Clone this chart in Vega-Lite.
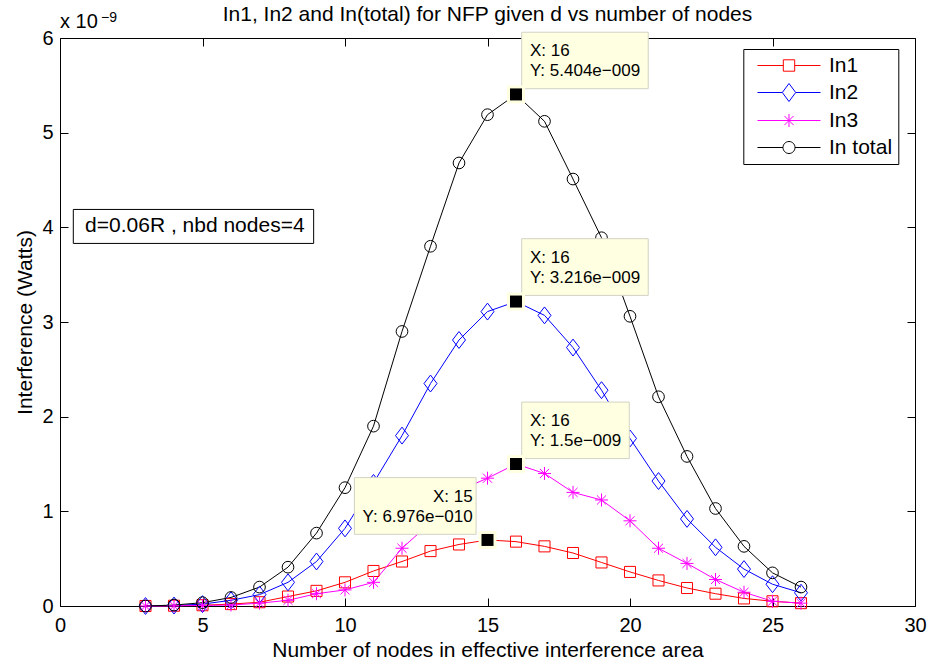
{
  "$schema": "https://vega.github.io/schema/vega-lite/v6.json",
  "width": 855,
  "height": 568,
  "autosize": {"type": "none"},
  "padding": {"left": 60, "top": 38, "right": 16, "bottom": 62},
  "background": "white",
  "config": {
    "font": "Liberation Sans",
    "view": {"stroke": "black", "strokeWidth": 1},
    "axis": {"grid": false, "domain": false, "tickColor": "black", "tickSize": -8, "tickWidth": 1, "labelColor": "black", "labelFontSize": 20, "labelFont": "Liberation Sans", "titleFont": "Liberation Sans", "titleFontSize": 21, "titleFontWeight": "normal", "titleColor": "black", "labelFlush": false, "labelOverlap": false},
    "text": {"font": "Liberation Sans"}
  },
  "datasets": {
    "curves": [
      {"nodes": 3, "series": "In1", "value": 0.0},
      {"nodes": 4, "series": "In1", "value": 0.003},
      {"nodes": 5, "series": "In1", "value": 0.008},
      {"nodes": 6, "series": "In1", "value": 0.02},
      {"nodes": 7, "series": "In1", "value": 0.04},
      {"nodes": 8, "series": "In1", "value": 0.1},
      {"nodes": 9, "series": "In1", "value": 0.16},
      {"nodes": 10, "series": "In1", "value": 0.25},
      {"nodes": 11, "series": "In1", "value": 0.37},
      {"nodes": 12, "series": "In1", "value": 0.47},
      {"nodes": 13, "series": "In1", "value": 0.58},
      {"nodes": 14, "series": "In1", "value": 0.65},
      {"nodes": 15, "series": "In1", "value": 0.6976},
      {"nodes": 16, "series": "In1", "value": 0.68},
      {"nodes": 17, "series": "In1", "value": 0.63},
      {"nodes": 18, "series": "In1", "value": 0.56},
      {"nodes": 19, "series": "In1", "value": 0.46},
      {"nodes": 20, "series": "In1", "value": 0.36},
      {"nodes": 21, "series": "In1", "value": 0.27},
      {"nodes": 22, "series": "In1", "value": 0.19},
      {"nodes": 23, "series": "In1", "value": 0.13},
      {"nodes": 24, "series": "In1", "value": 0.08},
      {"nodes": 25, "series": "In1", "value": 0.05},
      {"nodes": 26, "series": "In1", "value": 0.03},
      {"nodes": 3, "series": "In2", "value": 0.0},
      {"nodes": 4, "series": "In2", "value": 0.005},
      {"nodes": 5, "series": "In2", "value": 0.02},
      {"nodes": 6, "series": "In2", "value": 0.06},
      {"nodes": 7, "series": "In2", "value": 0.12},
      {"nodes": 8, "series": "In2", "value": 0.25},
      {"nodes": 9, "series": "In2", "value": 0.47},
      {"nodes": 10, "series": "In2", "value": 0.82},
      {"nodes": 11, "series": "In2", "value": 1.3},
      {"nodes": 12, "series": "In2", "value": 1.8},
      {"nodes": 13, "series": "In2", "value": 2.35},
      {"nodes": 14, "series": "In2", "value": 2.81},
      {"nodes": 15, "series": "In2", "value": 3.11},
      {"nodes": 16, "series": "In2", "value": 3.216},
      {"nodes": 17, "series": "In2", "value": 3.07},
      {"nodes": 18, "series": "In2", "value": 2.73},
      {"nodes": 19, "series": "In2", "value": 2.28},
      {"nodes": 20, "series": "In2", "value": 1.77},
      {"nodes": 21, "series": "In2", "value": 1.32},
      {"nodes": 22, "series": "In2", "value": 0.92},
      {"nodes": 23, "series": "In2", "value": 0.62},
      {"nodes": 24, "series": "In2", "value": 0.39},
      {"nodes": 25, "series": "In2", "value": 0.23},
      {"nodes": 26, "series": "In2", "value": 0.14},
      {"nodes": 3, "series": "In3", "value": 0.0},
      {"nodes": 4, "series": "In3", "value": 0.002},
      {"nodes": 5, "series": "In3", "value": 0.005},
      {"nodes": 6, "series": "In3", "value": 0.01},
      {"nodes": 7, "series": "In3", "value": 0.03},
      {"nodes": 8, "series": "In3", "value": 0.06},
      {"nodes": 9, "series": "In3", "value": 0.13},
      {"nodes": 10, "series": "In3", "value": 0.17},
      {"nodes": 11, "series": "In3", "value": 0.25},
      {"nodes": 12, "series": "In3", "value": 0.61},
      {"nodes": 13, "series": "In3", "value": 0.88},
      {"nodes": 14, "series": "In3", "value": 1.22},
      {"nodes": 15, "series": "In3", "value": 1.35},
      {"nodes": 16, "series": "In3", "value": 1.5},
      {"nodes": 17, "series": "In3", "value": 1.4},
      {"nodes": 18, "series": "In3", "value": 1.2},
      {"nodes": 19, "series": "In3", "value": 1.12},
      {"nodes": 20, "series": "In3", "value": 0.9},
      {"nodes": 21, "series": "In3", "value": 0.61},
      {"nodes": 22, "series": "In3", "value": 0.45},
      {"nodes": 23, "series": "In3", "value": 0.28},
      {"nodes": 24, "series": "In3", "value": 0.145},
      {"nodes": 25, "series": "In3", "value": 0.05},
      {"nodes": 26, "series": "In3", "value": 0.03},
      {"nodes": 3, "series": "In total", "value": 0.0},
      {"nodes": 4, "series": "In total", "value": 0.01},
      {"nodes": 5, "series": "In total", "value": 0.035},
      {"nodes": 6, "series": "In total", "value": 0.09},
      {"nodes": 7, "series": "In total", "value": 0.2},
      {"nodes": 8, "series": "In total", "value": 0.41},
      {"nodes": 9, "series": "In total", "value": 0.77},
      {"nodes": 10, "series": "In total", "value": 1.25},
      {"nodes": 11, "series": "In total", "value": 1.9},
      {"nodes": 12, "series": "In total", "value": 2.9},
      {"nodes": 13, "series": "In total", "value": 3.8},
      {"nodes": 14, "series": "In total", "value": 4.68},
      {"nodes": 15, "series": "In total", "value": 5.19},
      {"nodes": 16, "series": "In total", "value": 5.404},
      {"nodes": 17, "series": "In total", "value": 5.12},
      {"nodes": 18, "series": "In total", "value": 4.51},
      {"nodes": 19, "series": "In total", "value": 3.89},
      {"nodes": 20, "series": "In total", "value": 3.06},
      {"nodes": 21, "series": "In total", "value": 2.21},
      {"nodes": 22, "series": "In total", "value": 1.58},
      {"nodes": 23, "series": "In total", "value": 1.03},
      {"nodes": 24, "series": "In total", "value": 0.63},
      {"nodes": 25, "series": "In total", "value": 0.35},
      {"nodes": 26, "series": "In total", "value": 0.2}
    ],
    "tips": [
      {"series": "In total", "nodes": 16, "value": 5.404, "bx1": 16.2, "bx2": 20.64, "by1": 6.061, "by2": 5.464, "tx": 16.49, "label": "X: 16\nY: 5.404e−009"},
      {"series": "In2", "nodes": 16, "value": 3.216, "bx1": 16.2, "bx2": 20.64, "by1": 3.88, "by2": 3.281, "tx": 16.49, "label": "X: 16\nY: 3.216e−009"},
      {"series": "In3", "nodes": 16, "value": 1.5, "bx1": 16.2, "bx2": 19.975, "by1": 2.154, "by2": 1.557, "tx": 16.49, "label": "X: 16\nY: 1.5e−009"},
      {"series": "In1", "nodes": 15, "value": 0.6976, "bx1": 10.33, "bx2": 14.6, "by1": 1.356, "by2": 0.757, "tx": 14.48, "label": "X: 15\nY: 6.976e−010"}
    ],
    "note": [
      {"bx1": 0.467, "bx2": 8.9, "by1": 4.189, "by2": 3.83, "tx": 0.88, "ty": 4.01, "label": "d=0.06R , nbd nodes=4"}
    ]
  },
  "layer": [
    {
      "data": {"name": "curves"},
      "mark": {"type": "line", "strokeWidth": 1},
      "encoding": {
        "x": {"field": "nodes", "type": "quantitative", "scale": {"domain": [0, 30], "nice": false, "zero": false},
              "axis": {"orient": "bottom", "title": "Number of nodes in effective interference area", "values": [0, 5, 10, 15, 20, 25, 30], "format": "d", "labelPadding": 17, "titleY": 50, "titleBaseline": "alphabetic"}},
        "y": {"field": "value", "type": "quantitative", "scale": {"domain": [0, 6], "nice": false},
              "axis": {"orient": "left", "title": "Interference (Watts)", "values": [0, 1, 2, 3, 4, 5, 6], "format": "d", "labelPadding": 15, "titleX": -29, "titleBaseline": "alphabetic"}},
        "color": {"field": "series", "type": "nominal",
                  "scale": {"domain": ["In1", "In2", "In3", "In total"], "range": ["#FF0000", "#0000FF", "#FF00FF", "#000000"]},
                  "legend": {"orient": "none", "legendX": 683.3, "legendY": 11, "title": null, "strokeColor": "black", "fillColor": "white", "padding": 6,
                             "labelFontSize": 21, "labelFont": "Liberation Sans", "labelColor": "black", "symbolSize": 400, "symbolStrokeWidth": 1, "rowPadding": 5, "labelOffset": 58.7,
                             "encode": {"symbols": {"update": {"fill": {"value": "transparent"}, "shape": {"signal": "datum.value === 'In1' ? 'M-0.23,0H2.35M3.49,0H6.07M2.35,-0.57H3.49V0.57H2.35Z' : datum.value === 'In2' ? 'M-0.23,0H2.25M3.59,0H6.07M2.92,-0.9L3.59,0L2.92,0.9L2.25,0Z' : datum.value === 'In3' ? 'M-0.23,0H6.07M2.92,-0.65V0.65M2.46,-0.46L3.38,0.46M2.46,0.46L3.38,-0.46' : 'M-0.23,0H2.32M3.52,0H6.07M2.32,0A0.6,0.6,0,1,1,3.52,0A0.6,0.6,0,1,1,2.32,0Z'"}}}}}}
      }
    },
    {
      "data": {"name": "curves"},
      "transform": [{"filter": "datum.series === 'In1'"}],
      "mark": {"type": "point", "filled": false, "strokeWidth": 1, "size": 169, "opacity": 1, "color": "#FF0000", "shape": "M-0.85,-0.85H0.85V0.85H-0.85Z"},
      "encoding": {
        "x": {"field": "nodes", "type": "quantitative", "axis": null},
        "y": {"field": "value", "type": "quantitative", "axis": null}
      }
    },
    {
      "data": {"name": "curves"},
      "transform": [{"filter": "datum.series === 'In2'"}],
      "mark": {"type": "point", "filled": false, "strokeWidth": 1, "size": 169, "opacity": 1, "color": "#0000FF", "shape": "M0,-1.3L1,0L0,1.3L-1,0Z"},
      "encoding": {
        "x": {"field": "nodes", "type": "quantitative", "axis": null},
        "y": {"field": "value", "type": "quantitative", "axis": null}
      }
    },
    {
      "data": {"name": "curves"},
      "transform": [{"filter": "datum.series === 'In3'"}],
      "mark": {"type": "point", "filled": false, "strokeWidth": 1, "size": 169, "opacity": 1, "color": "#FF00FF", "shape": "M0,-1V1M-1,0H1M-0.7,-0.7L0.7,0.7M-0.7,0.7L0.7,-0.7"},
      "encoding": {
        "x": {"field": "nodes", "type": "quantitative", "axis": null},
        "y": {"field": "value", "type": "quantitative", "axis": null}
      }
    },
    {
      "data": {"name": "curves"},
      "transform": [{"filter": "datum.series === 'In total'"}],
      "mark": {"type": "point", "filled": false, "strokeWidth": 1, "size": 169, "opacity": 1, "color": "#000000", "shape": "M-0.9,0A0.9,0.9,0,1,1,0.9,0A0.9,0.9,0,1,1,-0.9,0Z"},
      "encoding": {
        "x": {"field": "nodes", "type": "quantitative", "axis": null},
        "y": {"field": "value", "type": "quantitative", "axis": null}
      }
    },
    {
      "data": {"name": "tips"},
      "mark": {"type": "rect", "fill": "#FFFFE1", "stroke": "#D2D2C4", "strokeWidth": 1},
      "encoding": {
        "x": {"field": "bx1", "type": "quantitative", "axis": null},
        "x2": {"field": "bx2"},
        "y": {"field": "by1", "type": "quantitative", "axis": null},
        "y2": {"field": "by2"}
      }
    },
    {
      "data": {"name": "tips"},
      "transform": [{"filter": "datum.series !== 'In1'"}],
      "mark": {"type": "text", "align": "left", "baseline": "top", "fontSize": 17, "lineHeight": 20, "lineBreak": "\n", "dy": 11, "color": "black", "font": "Liberation Sans"},
      "encoding": {
        "x": {"field": "tx", "type": "quantitative", "axis": null},
        "y": {"field": "by1", "type": "quantitative", "axis": null},
        "text": {"field": "label", "type": "nominal"}
      }
    },
    {
      "data": {"name": "tips"},
      "transform": [{"filter": "datum.series === 'In1'"}],
      "mark": {"type": "text", "align": "right", "baseline": "top", "fontSize": 17, "lineHeight": 20, "lineBreak": "\n", "dy": 11, "color": "black", "font": "Liberation Sans"},
      "encoding": {
        "x": {"field": "tx", "type": "quantitative", "axis": null},
        "y": {"field": "by1", "type": "quantitative", "axis": null},
        "text": {"field": "label", "type": "nominal"}
      }
    },
    {
      "data": {"name": "tips"},
      "mark": {"type": "point", "shape": "square", "filled": true, "size": 324, "color": "#FFFFE1", "opacity": 1},
      "encoding": {
        "x": {"field": "nodes", "type": "quantitative", "axis": null},
        "y": {"field": "value", "type": "quantitative", "axis": null}
      }
    },
    {
      "data": {"name": "tips"},
      "mark": {"type": "point", "shape": "square", "filled": true, "size": 144, "color": "#000000", "opacity": 1},
      "encoding": {
        "x": {"field": "nodes", "type": "quantitative", "axis": null},
        "y": {"field": "value", "type": "quantitative", "axis": null}
      }
    },
    {
      "data": {"name": "note"},
      "mark": {"type": "rect", "fill": "white", "stroke": "black", "strokeWidth": 1},
      "encoding": {
        "x": {"field": "bx1", "type": "quantitative", "axis": {"orient": "top", "labels": false, "title": null, "values": [0, 5, 10, 15, 20, 25, 30]}},
        "x2": {"field": "bx2"},
        "y": {"field": "by1", "type": "quantitative", "axis": {"orient": "right", "labels": false, "title": null, "values": [0, 1, 2, 3, 4, 5, 6]}},
        "y2": {"field": "by2"}
      }
    },
    {
      "data": {"name": "note"},
      "mark": {"type": "text", "align": "left", "baseline": "middle", "fontSize": 21, "color": "black", "font": "Liberation Sans"},
      "encoding": {
        "x": {"field": "tx", "type": "quantitative", "axis": null},
        "y": {"field": "ty", "type": "quantitative", "axis": null},
        "text": {"field": "label", "type": "nominal"}
      }
    },
    {
      "data": {"values": [{}]},
      "mark": {"type": "text", "align": "center", "baseline": "alphabetic", "fontSize": 21, "dy": -17, "color": "black", "font": "Liberation Sans"},
      "encoding": {
        "x": {"datum": 15, "type": "quantitative", "axis": null},
        "y": {"datum": 6, "type": "quantitative", "axis": null},
        "text": {"value": "In1, In2 and In(total) for NFP given d vs number of nodes"}
      }
    },
    {
      "data": {"values": [{}]},
      "mark": {"type": "text", "align": "left", "baseline": "alphabetic", "fontSize": 20, "dy": -10, "color": "black", "font": "Liberation Sans"},
      "encoding": {
        "x": {"datum": 0, "type": "quantitative", "axis": null},
        "y": {"datum": 6, "type": "quantitative", "axis": null},
        "text": {"value": "x 10"}
      }
    },
    {
      "data": {"values": [{}]},
      "mark": {"type": "text", "align": "left", "baseline": "alphabetic", "fontSize": 14, "dx": 41, "dy": -16, "color": "black", "font": "Liberation Sans"},
      "encoding": {
        "x": {"datum": 0, "type": "quantitative", "axis": null},
        "y": {"datum": 6, "type": "quantitative", "axis": null},
        "text": {"value": "−9"}
      }
    }
  ]
}
